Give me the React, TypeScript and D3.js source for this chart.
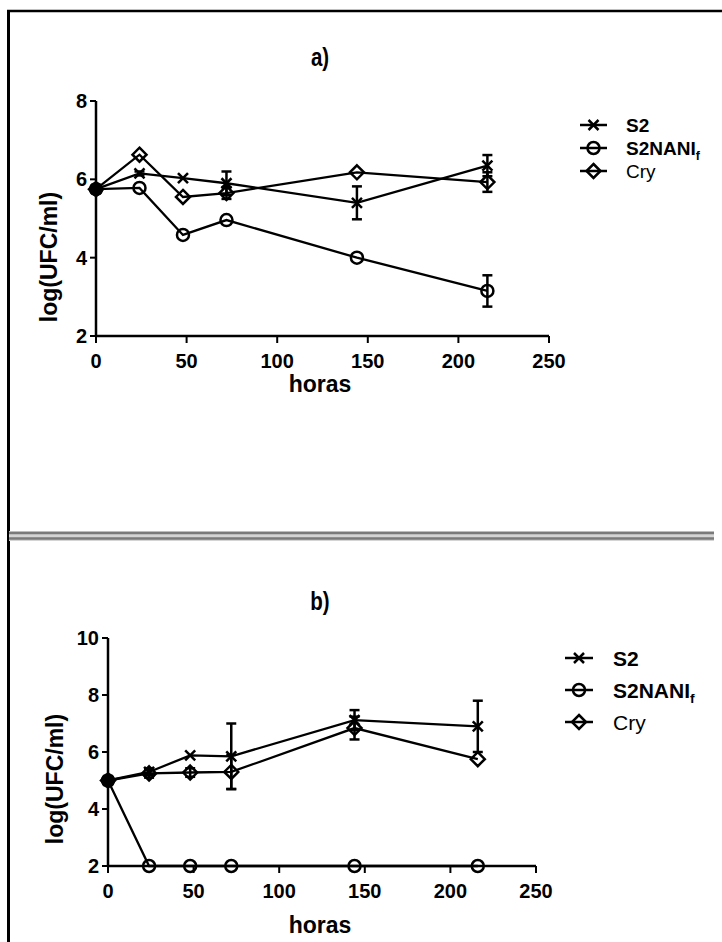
import React from "react";
import * as d3 from "d3";

// ---------- data ----------
const hours = [0, 24, 48, 72, 144, 216];

const aS2 = [5.75, 6.15, 6.03, 5.9, 5.4, 6.35];
const aS2Err = [0, 0.05, 0, 0.3, 0.42, 0.27];
const aNani = [5.75, 5.78, 4.58, 4.96, 4.0, 3.15];
const aNaniErr = [0, 0, 0, 0, 0, 0.4];
const aCry = [5.75, 6.63, 5.55, 5.65, 6.18, 5.93];
const aCryErr = [0, 0, 0, 0.15, 0, 0.25];

const bS2 = [5.0, 5.3, 5.88, 5.85, 7.12, 6.9];
const bS2Err = [0, 0.12, 0, 1.15, 0.35, 0.9];
const bNani = [5.0, 2.0, 2.0, 2.0, 2.0, 2.0];
const bNaniErr = [0, 0, 0, 0, 0, 0];
const bCry = [5.0, 5.25, 5.28, 5.3, 6.84, 5.75];
const bCryErr = [0, 0.15, 0.15, 0.6, 0.4, 0];

const xTicks = [0, 50, 100, 150, 200, 250];
const aYTicks = [2, 4, 6, 8];
const bYTicks = [2, 4, 6, 8, 10];

const seriesNames = ["S2", "S2NANI", "Cry"];
const markerTypes = ["x", "circle", "diamond"];

const FONT = "'Liberation Sans', Arial, Helvetica, sans-serif";

type Panel = {
  title: string;
  xRange: [number, number];
  yDomain: [number, number];
  yRange: [number, number];
  yTicks: number[];
  series: { values: number[]; errs: number[] }[];
  titleY: number;
  xLabelY: number;
  yLabelX: number;
  yLabelY: number;
  legend: { lx1: number; lx2: number; tx: number; y0: number; dy: number; fs: number };
};

function Marker({ type, x, y, filled }: { type: string; x: number; y: number; filled?: boolean }) {
  const fill = filled ? "#000" : "none";
  if (type === "circle") return <circle cx={x} cy={y} r={6} fill={fill} stroke="#000" strokeWidth={2.5} />;
  if (type === "diamond") {
    const s = 7;
    return (
      <path d={`M${x},${y - s}L${x + s},${y}L${x},${y + s}L${x - s},${y}Z`} fill={fill} stroke="#000" strokeWidth={2.5} />
    );
  }
  const s = 5;
  return (
    <g stroke="#000" strokeWidth={2.5}>
      <line x1={x - s} y1={y - s} x2={x + s} y2={y + s} />
      <line x1={x - s} y1={y + s} x2={x + s} y2={y - s} />
    </g>
  );
}

function ChartPanel({ p }: { p: Panel }) {
  const x = d3.scaleLinear().domain([0, 250]).range(p.xRange);
  const y = d3.scaleLinear().domain(p.yDomain).range(p.yRange);
  const line = d3
    .line<number>()
    .x((_, i) => x(hours[i]))
    .y((d) => y(d));
  const x0 = x(0);
  const yBottom = y(p.yDomain[0]);
  return (
    <g>
      <text
        transform={`translate(320,${p.titleY}) scale(0.82,1)`}
        textAnchor="middle"
        fontFamily={FONT}
        fontWeight="bold"
        fontSize={25}
      >
        {p.title}
      </text>
      {/* axes */}
      <line x1={x0} y1={y(p.yDomain[1])} x2={x0} y2={yBottom} stroke="#000" strokeWidth={2.5} />
      <line x1={x0} y1={yBottom} x2={x(250)} y2={yBottom} stroke="#000" strokeWidth={2.5} />
      {p.yTicks.map((t) => (
        <g key={"y" + t}>
          <line x1={x0 - 6} x2={x0} y1={y(t)} y2={y(t)} stroke="#000" strokeWidth={2} />
          <text x={x0 - 9} y={y(t) + 7} textAnchor="end" fontFamily={FONT} fontWeight="bold" fontSize={20}>
            {t}
          </text>
        </g>
      ))}
      {xTicks.map((t) => (
        <g key={"x" + t}>
          <line x1={x(t)} x2={x(t)} y1={yBottom} y2={yBottom + 7} stroke="#000" strokeWidth={2} />
          <text x={x(t)} y={yBottom + 32} textAnchor="middle" fontFamily={FONT} fontWeight="bold" fontSize={20}>
            {t}
          </text>
        </g>
      ))}
      <text x={320} y={p.xLabelY} textAnchor="middle" fontFamily={FONT} fontWeight="bold" fontSize={23}>
        horas
      </text>
      <text
        transform={`translate(${p.yLabelX},${p.yLabelY}) rotate(-90)`}
        textAnchor="middle"
        fontFamily={FONT}
        fontWeight="bold"
        fontSize={23}
      >
        log(UFC/ml)
      </text>
      {/* lines */}
      {p.series.map((s, k) => (
        <path key={"l" + k} d={line(s.values) || ""} fill="none" stroke="#000" strokeWidth={2.3} />
      ))}
      {/* error bars */}
      {p.series.map((s, k) =>
        s.values.map((v, i) =>
          s.errs[i] > 0 ? (
            <g key={`e${k}-${i}`} stroke="#000" strokeWidth={2.5}>
              <line x1={x(hours[i])} x2={x(hours[i])} y1={y(v + s.errs[i])} y2={y(v - s.errs[i])} />
              <line x1={x(hours[i]) - 5} x2={x(hours[i]) + 5} y1={y(v + s.errs[i])} y2={y(v + s.errs[i])} />
              <line x1={x(hours[i]) - 5} x2={x(hours[i]) + 5} y1={y(v - s.errs[i])} y2={y(v - s.errs[i])} />
            </g>
          ) : null
        )
      )}
      {/* markers */}
      {p.series.map((s, k) =>
        s.values.map((v, i) => (
          <Marker key={`m${k}-${i}`} type={markerTypes[k]} x={x(hours[i])} y={y(v)} filled={i === 0} />
        ))
      )}
      {/* legend */}
      {seriesNames.map((n, k) => {
        const ly = p.legend.y0 + k * p.legend.dy;
        const mx = (p.legend.lx1 + p.legend.lx2) / 2;
        return (
          <g key={"lg" + n}>
            <line x1={p.legend.lx1} x2={p.legend.lx2} y1={ly} y2={ly} stroke="#000" strokeWidth={2.5} />
            <Marker type={markerTypes[k]} x={mx} y={ly} />
            <text
              x={p.legend.tx}
              y={ly + p.legend.fs * 0.36}
              fontFamily={FONT}
              fontWeight={k === 2 ? "normal" : "bold"}
              fontSize={p.legend.fs}
            >
              {n}
              {k === 1 ? (
                <tspan fontSize={p.legend.fs * 0.65} dy={5}>
                  f
                </tspan>
              ) : null}
            </text>
          </g>
        );
      })}
    </g>
  );
}

const panelA: Panel = {
  title: "a)",
  xRange: [96, 549],
  yDomain: [2, 8],
  yRange: [336, 101],
  yTicks: aYTicks,
  series: [
    { values: aS2, errs: aS2Err },
    { values: aNani, errs: aNaniErr },
    { values: aCry, errs: aCryErr },
  ],
  titleY: 66,
  xLabelY: 392,
  yLabelX: 57,
  yLabelY: 257,
  legend: { lx1: 580, lx2: 607, tx: 626, y0: 125, dy: 23, fs: 19 },
};

const panelB: Panel = {
  title: "b)",
  xRange: [108, 536],
  yDomain: [2, 10],
  yRange: [866, 638],
  yTicks: bYTicks,
  series: [
    { values: bS2, errs: bS2Err },
    { values: bNani, errs: bNaniErr },
    { values: bCry, errs: bCryErr },
  ],
  titleY: 610,
  xLabelY: 933,
  yLabelX: 63,
  yLabelY: 779,
  legend: { lx1: 565, lx2: 593, tx: 613, y0: 658, dy: 32, fs: 21 },
};

export default function App() {
  return (
    <svg
      width={722}
      height={942}
      style={{ position: "absolute", left: 0, top: 0, background: "#fff" }}
    >
      <rect x={0} y={0} width={722} height={942} fill="#fff" />
      {/* frame */}
      <line x1={8.5} x2={8.5} y1={10} y2={942} stroke="#000" strokeWidth={3} />
      <line x1={7} x2={722} y1={11} y2={11} stroke="#000" strokeWidth={2.5} />
      {/* divider */}
      <rect x={9} y={531} width={705} height={10} fill="#d4d4d4" />
      <line x1={9} x2={714} y1={533} y2={533} stroke="#7a7a7a" strokeWidth={2.5} />
      <line x1={9} x2={714} y1={538.5} y2={538.5} stroke="#7a7a7a" strokeWidth={2.5} />
      <ChartPanel p={panelA} />
      <ChartPanel p={panelB} />
    </svg>
  );
}
